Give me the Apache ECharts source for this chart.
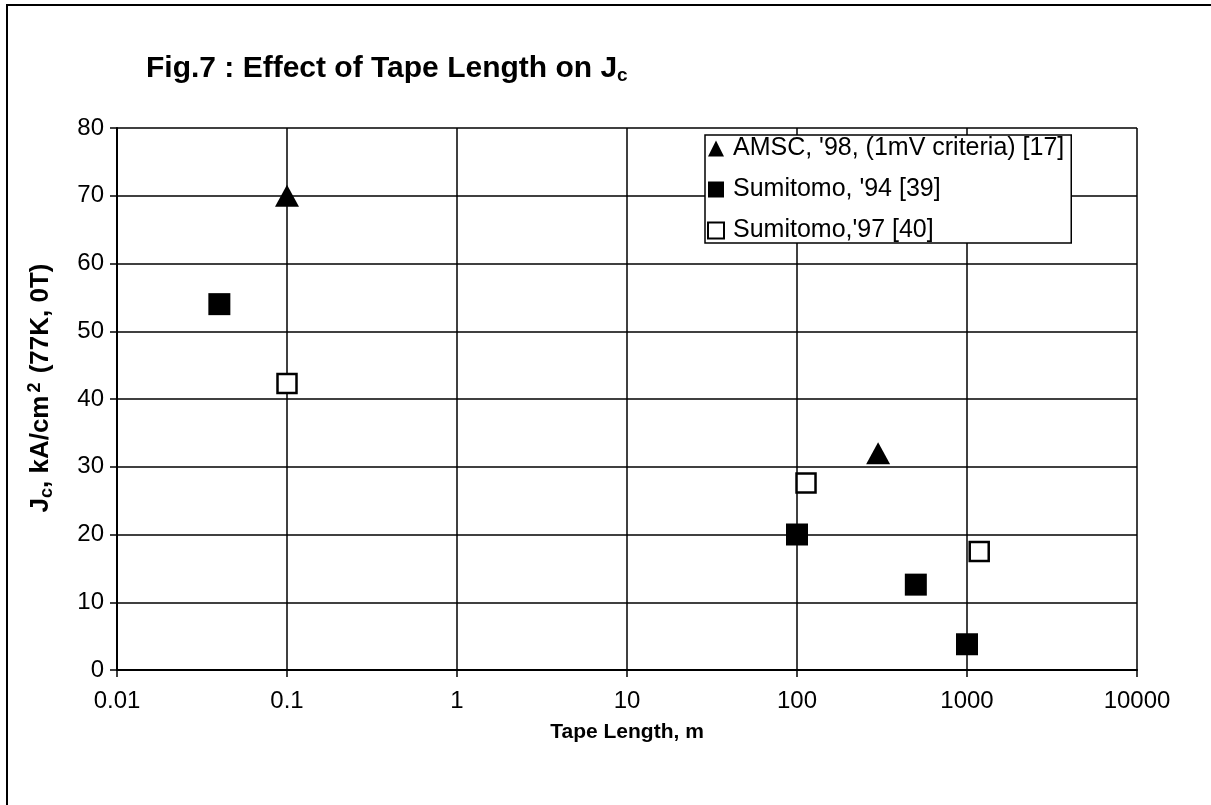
<!DOCTYPE html>
<html>
<head>
<meta charset="utf-8">
<script src="https://cdn.jsdelivr.net/npm/echarts@6/dist/echarts.min.js"></script>
<style>
  html, body { margin: 0; padding: 0; background: #fff; }
  #charts { width: 1211px; height: 805px; }
</style>
</head>
<body>
<div id="charts"></div>
<script>
// tape length (m), Jc (kA/cm2)
const amscData = [[0.1, 70], [300, 32]]
const sumi94Data = [[0.04, 54], [100, 20], [500, 12.6], [1000, 3.8]]
const sumi97Data = [[0.1, 42.3], [113, 27.6], [1180, 17.5]]
const seriesNames = ["AMSC, '98, (1mV criteria) [17]", "Sumitomo, '94 [39]", "Sumitomo,'97 [40]"]

const font = 'Arial, "Liberation Sans", sans-serif'
const charts = echarts.init(document.getElementById('charts'))

const option = {
  backgroundColor: '#fff',
  animation: false,
  textStyle: { fontFamily: font, color: '#000' },
  title: {
    text: '{b|Fig.7 : Effect of Tape Length on J}{s|c}',
    left: 141,
    top: 47,
    textStyle: {
      rich: {
        b: { fontSize: 30, fontWeight: 'bold', fontFamily: font, color: '#000' },
        s: { fontSize: 19, fontWeight: 'bold', fontFamily: font, color: '#000', padding: [14, 0, 0, 0] }
      }
    }
  },
  grid: { left: 117, right: 74, top: 128, bottom: 135, containLabel: false },
  xAxis: {
    type: 'log',
    logBase: 10,
    min: 0.01,
    max: 10000,
    name: 'Tape Length, m',
    nameLocation: 'middle',
    nameGap: 52,
    nameTextStyle: { fontSize: 21, fontWeight: 'bold', fontFamily: font, color: '#000' },
    axisLine: { onZero: false, lineStyle: { color: '#000', width: 2 } },
    axisTick: { show: true, length: 7, lineStyle: { color: '#000', width: 1.5 } },
    minorTick: { show: false },
    axisLabel: {
      fontSize: 24,
      color: '#000',
      margin: 19,
      formatter: v => String(+v.toPrecision(6))
    },
    splitLine: { show: true, lineStyle: { color: '#000', width: 1.5 } }
  },
  yAxis: {
    type: 'value',
    min: 0,
    max: 80,
    interval: 10,
    name: '{b|J}{s|c}{b|, kA/cm}{p|2}{b| (77K, 0T)}',
    nameLocation: 'middle',
    nameRotate: 90,
    nameGap: 61,
    nameTextStyle: {
      padding: [0, 0, 0, 22],
      rich: {
        b: { fontSize: 26, fontWeight: 'bold', fontFamily: font, color: '#000' },
        s: { fontSize: 18, fontWeight: 'bold', fontFamily: font, color: '#000', padding: [12, 0, 0, 0] },
        p: { fontSize: 18, fontWeight: 'bold', fontFamily: font, color: '#000', padding: [0, 2, 12, 3] }
      }
    },
    axisLine: { show: true, lineStyle: { color: '#000', width: 2 } },
    axisTick: { show: true, length: 7, lineStyle: { color: '#000', width: 1.5 } },
    axisLabel: { fontSize: 24, color: '#000', margin: 13 },
    splitLine: { show: true, lineStyle: { color: '#000', width: 1.5 } }
  },
  legend: {
    orient: 'vertical',
    left: 705,
    top: 135,
    padding: [1, 7, 0, 2],
    itemGap: 16,
    itemWidth: 16,
    itemHeight: 16,
    backgroundColor: '#fff',
    borderColor: '#000',
    borderWidth: 1.5,
    textStyle: { fontSize: 25, color: '#000', fontFamily: font, padding: [0, 0, 0, 4] },
    data: [
      { name: seriesNames[0], icon: 'triangle' },
      { name: seriesNames[1], icon: 'rect' },
      { name: seriesNames[2], icon: 'rect' }
    ]
  },
  graphic: [
    {
      type: 'rect',
      shape: { x: 7, y: 5, width: 1230, height: 830 },
      style: { fill: 'none', stroke: '#000', lineWidth: 2 },
      silent: true
    }
  ],
  series: [
    {
      name: seriesNames[0],
      type: 'scatter',
      symbol: 'triangle',
      symbolSize: [24, 22],
      itemStyle: { color: '#000', opacity: 1 },
      data: amscData,
      z: 3
    },
    {
      name: seriesNames[1],
      type: 'scatter',
      symbol: 'rect',
      symbolSize: 22,
      itemStyle: { color: '#000', opacity: 1 },
      data: sumi94Data,
      z: 3
    },
    {
      name: seriesNames[2],
      type: 'scatter',
      symbol: 'rect',
      symbolSize: 19,
      itemStyle: { color: '#fff', borderColor: '#000', borderWidth: 2.5, opacity: 1 },
      data: sumi97Data,
      z: 3
    }
  ]
}

charts.setOption(option)
</script>
</body>
</html>
